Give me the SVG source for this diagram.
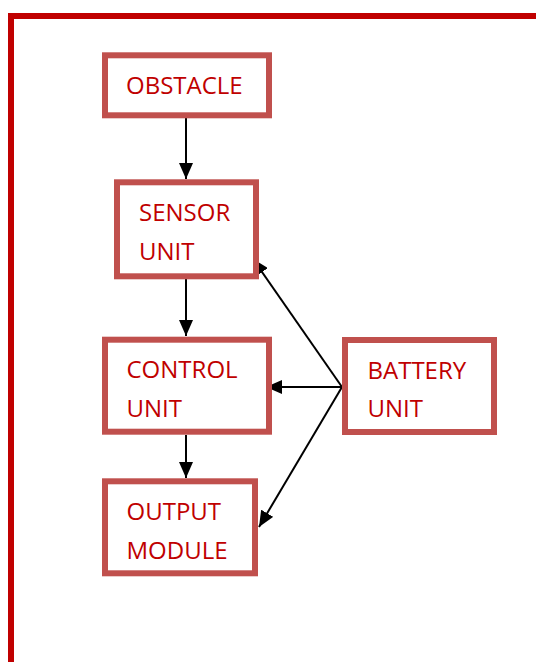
<svg xmlns="http://www.w3.org/2000/svg" width="536" height="662" viewBox="0 0 536 662">
<style>
.box{fill:#fff;stroke:#C0504D;stroke-width:6}
.lbl{font-family:"Open Sans","Liberation Sans",sans-serif;font-size:24px;fill:#C00000}
.con{stroke:#000;stroke-width:2;fill:none;marker-end:url(#ah)}
</style>
<defs>
<marker id="ah" markerUnits="userSpaceOnUse" markerWidth="16" markerHeight="14" viewBox="0 0 16 14" refX="16" refY="7" orient="auto">
<path d="M0,0 L16,7 L0,14 z" fill="#000"/>
</marker>
</defs>
<rect width="536" height="662" fill="#fff"/>
<path d="M11,670 L11,16 L545,16" fill="none" stroke="#C00000" stroke-width="6"/>
<g id="connectors">
<line class="con" x1="186" y1="118" x2="186" y2="179"/>
<line class="con" x1="186" y1="279" x2="186" y2="336"/>
<line class="con" x1="186" y1="435" x2="186" y2="478"/>
<line class="con" x1="342" y1="387" x2="266" y2="387"/>
<line class="con" x1="342" y1="387" x2="253" y2="259"/>
<line class="con" x1="342" y1="387" x2="259" y2="527"/>
</g>
<g id="obstacle">
<rect class="box" x="105" y="55.3" width="164" height="60"/>
<text class="lbl" x="126" y="94">OBSTACLE</text>
</g>
<g id="sensor">
<rect class="box" x="117" y="182.3" width="139" height="94"/>
<text class="lbl" x="139" y="221">SENSOR</text>
<text class="lbl" x="139" y="260">UNIT</text>
</g>
<g id="control">
<rect class="box" x="105" y="339.7" width="164" height="92"/>
<text class="lbl" x="126.5" y="378">CONTROL</text>
<text class="lbl" x="126.5" y="417">UNIT</text>
</g>
<g id="battery">
<rect class="box" x="345" y="340" width="149" height="92"/>
<text class="lbl" x="367.5" y="378.5">BATTERY</text>
<text class="lbl" x="367.5" y="417">UNIT</text>
</g>
<g id="output">
<rect class="box" x="105" y="481.3" width="150" height="92"/>
<text class="lbl" x="126.5" y="520">OUTPUT</text>
<text class="lbl" x="126.5" y="558.5">MODULE</text>
</g>
</svg>
